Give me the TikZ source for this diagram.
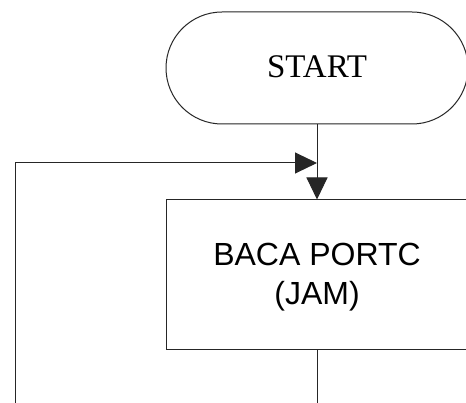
\documentclass[tikz,border=0pt]{standalone}
\usepackage{fontspec}
\setmainfont{Liberation Serif}
\newfontfamily\arialfont{Liberation Sans}
\usetikzlibrary{arrows.meta}
\begin{document}
\begin{tikzpicture}[x=1pt,y=-1pt,
  conn/.style={draw=black!85, line width=1pt},
  tip/.style={-{Triangle[length=22pt,width=21pt]}},
  terminal/.style={draw=black!85, line width=1pt, rounded corners=56pt, minimum width=302pt, minimum height=112pt, inner sep=0pt},
  process/.style={draw=black!85, line width=1pt, minimum width=302pt, minimum height=150pt, inner sep=0pt}]
  \useasboundingbox (0,0) rectangle (466,403);
  \clip (0,0) rectangle (466,403);
  \fill[white] (0,0) rectangle (466,403);
  % flowchart shapes
  \node[terminal] (start) at (317,68) {};
  \node[font=\fontsize{33}{39}\selectfont, anchor=base] (starttxt) at (317,78) {START};
  \node[process] (baca) at (317,275) {};
  \node[font=\arialfont\fontsize{32}{39}\selectfont, align=center, anchor=base] (bacatxt) at (317,305) {BACA PORTC\\(JAM)};
  % connectors
  \coordinate (join) at (317,163);
  \coordinate (loop) at (15,403);
  \coordinate (down) at (317,403);
  \draw[conn] (start.south) -- (join);
  \draw[conn, tip] (join) -- (baca.north);
  \draw[conn, tip] (loop) |- (join);
  \draw[conn] (baca.south) -- (down);
\end{tikzpicture}
\end{document}
